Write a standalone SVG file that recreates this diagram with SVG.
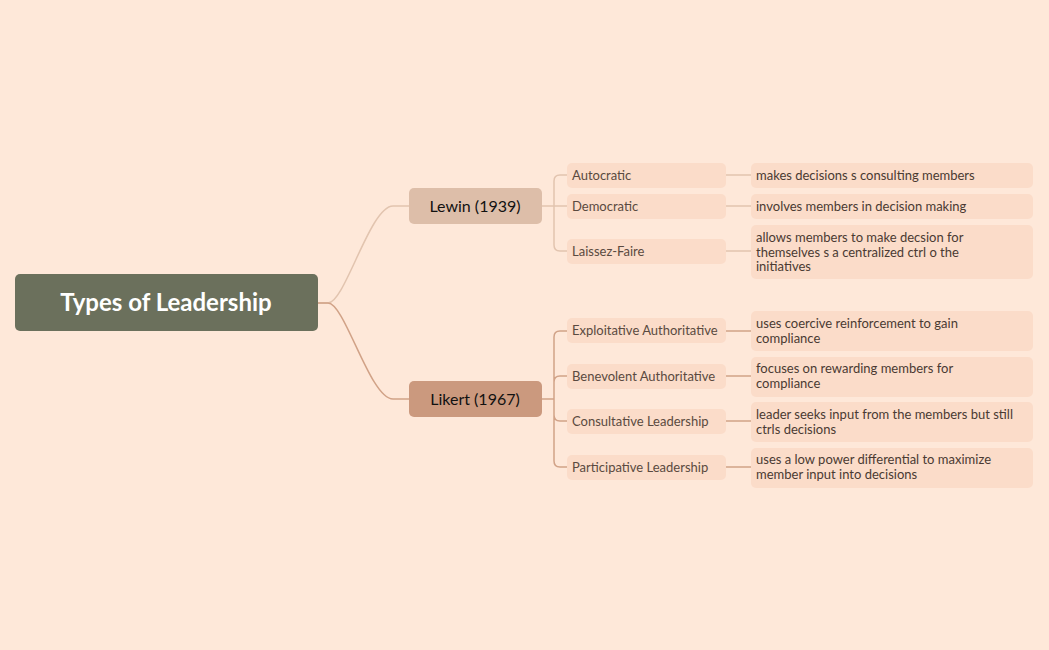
<svg xmlns="http://www.w3.org/2000/svg" width="1049" height="650" viewBox="0 0 1049 650">
<style>
text{font-family:"Lato","Noto Sans",sans-serif}
.sub{fill:#FBDCC9}
.st{font-size:13px;fill:#5a4a40}
.dt{font-size:13px;fill:#4a3a32}
.c1{fill:none;stroke:#E2C4AF;stroke-width:1.5}
.c2{fill:none;stroke:#D1A287;stroke-width:1.5}
</style>
<rect width="1049" height="650" fill="#FEE8D9"/>
<g id="connectors">
<path class="c1" d="M318,303 H328 C345,303 370,206 393,206 H409"/>
<path class="c2" d="M318,303 H328 C345,303 370,399 393,399 H409"/>
<path class="c1" d="M542,206 H567 M554,206 V181 Q554,175 560,175 H567 M554,206 V245 Q554,251 560,251 H567"/>
<path class="c1" d="M726,175 H751 M726,206 H751 M726,251 H751"/>
<path class="c2" d="M542,399 H554 M554,399 V337 Q554,331 560,331 H567 M554,382 Q554,376 560,376 H567 M554,399 V461 Q554,467 560,467 H567 M554,415 Q554,421 560,421 H567"/>
<path class="c2" d="M726,331 H751 M726,376 H751 M726,421 H751 M726,467 H751"/>
</g>
<g id="root"><rect x="15" y="274" width="303" height="57" rx="5" fill="#6B705C"/><text x="166" y="311" text-anchor="middle" font-size="24" font-weight="bold" fill="#fff">Types of Leadership</text></g>
<g id="lewin"><rect x="409" y="188" width="133" height="36" rx="5" fill="#DDBEA9"/><text x="475" y="212" text-anchor="middle" font-size="16" fill="#111">Lewin (1939)</text></g>
<g id="likert"><rect x="409" y="381" width="133" height="36" rx="5" fill="#CB997E"/><text x="475" y="405" text-anchor="middle" font-size="16" fill="#111">Likert (1967)</text></g>
<g id="autocratic"><rect class="sub" x="567" y="163" width="159" height="25" rx="5"/><text class="st" x="572" y="180">Autocratic</text></g>
<g id="democratic"><rect class="sub" x="567" y="194" width="159" height="25" rx="5"/><text class="st" x="572" y="211">Democratic</text></g>
<g id="laissez"><rect class="sub" x="567" y="239" width="159" height="25" rx="5"/><text class="st" x="572" y="256">Laissez-Faire</text></g>
<g id="d1"><rect class="sub" x="751" y="163" width="282" height="25" rx="5"/><text class="dt" x="756" y="180">makes decisions s consulting members</text></g>
<g id="d2"><rect class="sub" x="751" y="194" width="282" height="25" rx="5"/><text class="dt" x="756" y="211">involves members in decision making</text></g>
<g id="d3"><rect class="sub" x="751" y="225" width="282" height="54" rx="5"/><text class="dt" x="756" y="242">allows members to make decsion for<tspan x="756" dy="14.5">themselves s a centralized ctrl o the</tspan><tspan x="756" dy="14.5">initiatives</tspan></text></g>
<g id="exploit"><rect class="sub" x="567" y="318" width="159" height="25" rx="5"/><text class="st" x="572" y="335">Exploitative Authoritative</text></g>
<g id="benev"><rect class="sub" x="567" y="364" width="159" height="25" rx="5"/><text class="st" x="572" y="381">Benevolent Authoritative</text></g>
<g id="consult"><rect class="sub" x="567" y="409" width="159" height="25" rx="5"/><text class="st" x="572" y="426">Consultative Leadership</text></g>
<g id="partic"><rect class="sub" x="567" y="455" width="159" height="25" rx="5"/><text class="st" x="572" y="472">Participative Leadership</text></g>
<g id="d4"><rect class="sub" x="751" y="311" width="282" height="40" rx="5"/><text class="dt" x="756" y="328">uses coercive reinforcement to gain<tspan x="756" dy="14.5">compliance</tspan></text></g>
<g id="d5"><rect class="sub" x="751" y="357" width="282" height="40" rx="5"/><text class="dt" x="756" y="373">focuses on rewarding members for<tspan x="756" dy="14.5">compliance</tspan></text></g>
<g id="d6"><rect class="sub" x="751" y="402" width="282" height="40" rx="5"/><text class="dt" x="756" y="419">leader seeks input from the members but still<tspan x="756" dy="14.5">ctrls decisions</tspan></text></g>
<g id="d7"><rect class="sub" x="751" y="448" width="282" height="40" rx="5"/><text class="dt" x="756" y="464">uses a low power differential to maximize<tspan x="756" dy="14.5">member input into decisions</tspan></text></g>
</svg>
